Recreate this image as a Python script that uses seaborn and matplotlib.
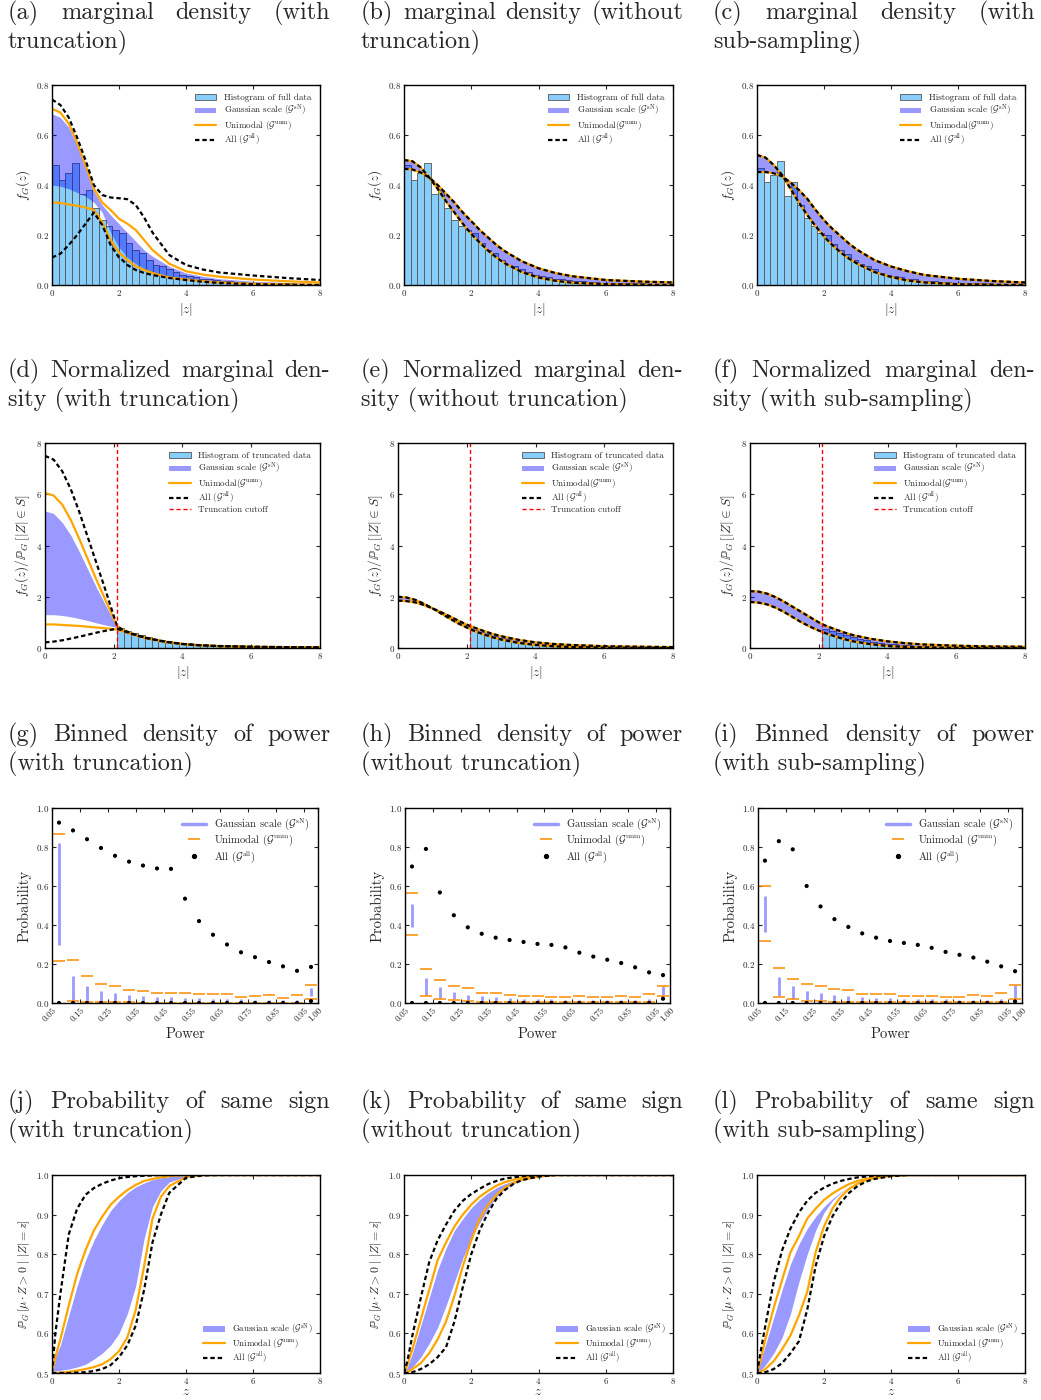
import numpy as np
import pandas as pd
import seaborn as sns
import matplotlib.pyplot as plt
from matplotlib.patches import Patch
from matplotlib.lines import Line2D

# ---- data ----
z_grid = [0, 0.25, 0.5, 0.75, 1.0, 1.25, 1.5, 1.75, 2.0, 2.1, 2.25, 2.5, 2.75,
          3.0, 3.5, 4.0, 4.5, 5.0, 6.0, 7.0, 8.0]
sign_grid = [0, 0.1, 0.25, 0.5, 0.75, 1.0, 1.25, 1.5, 1.75, 2.0, 2.25, 2.5, 2.75,
             3.0, 3.25, 3.5, 4.0, 4.5, 5.0, 6.0, 8.0]

# full-data histograms, bins of width 0.2 on [0, 8]
hist_full = [0.48, 0.42, 0.45, 0.49, 0.365, 0.38, 0.31, 0.26, 0.235, 0.22,
             0.21, 0.17, 0.14, 0.128, 0.1, 0.082, 0.077, 0.065, 0.051, 0.04,
             0.035, 0.03, 0.026, 0.022, 0.019, 0.016, 0.014, 0.012, 0.011, 0.01,
             0.009, 0.008, 0.008, 0.007, 0.006, 0.006, 0.005, 0.005, 0.005, 0.004]
hist_sub = [0.47, 0.413, 0.44, 0.497, 0.355, 0.41, 0.32, 0.27, 0.235, 0.21,
            0.2, 0.165, 0.14, 0.125, 0.1, 0.085, 0.075, 0.063, 0.05, 0.04,
            0.035, 0.03, 0.026, 0.022, 0.018, 0.016, 0.014, 0.012, 0.011, 0.01,
            0.009, 0.008, 0.007, 0.007, 0.006, 0.005, 0.005, 0.005, 0.004, 0.004]
# truncated-data histograms, bins of width 0.2 from the cutoff
hist_trunc_d = [0.78, 0.68, 0.58, 0.5, 0.42, 0.35, 0.3, 0.26, 0.21, 0.17, 0.14,
                0.12, 0.1, 0.09, 0.08, 0.07, 0.06, 0.05, 0.045, 0.04, 0.035, 0.03,
                0.03, 0.025, 0.02, 0.02, 0.02, 0.015, 0.015]
hist_trunc_e = [0.72, 0.63, 0.55, 0.47, 0.4, 0.34, 0.29, 0.24, 0.2, 0.16, 0.13,
                0.11, 0.09, 0.07, 0.06, 0.05, 0.045, 0.04, 0.035, 0.03, 0.03,
                0.025, 0.02, 0.02, 0.02, 0.015, 0.015, 0.01, 0.01]
hist_trunc_f = [0.76, 0.66, 0.57, 0.49, 0.42, 0.36, 0.3, 0.25, 0.21, 0.17, 0.14,
                0.12, 0.1, 0.08, 0.07, 0.06, 0.05, 0.045, 0.04, 0.035, 0.03, 0.025,
                0.025, 0.02, 0.02, 0.02, 0.015, 0.015, 0.01]
cutoff = 2.1

# (a) marginal density with truncation
a_all_hi = [.742, .72, .67, .59, .50, .40, .36, .35, .347, .346, .343, .32, .27,
            .21, .12, .08, .062, .05, .038, .028, .02]
a_uni_hi = [.705, .69, .645, .57, .48, .385, .33, .30, .265, .257, .245, .22, .18,
            .14, .085, .055, .042, .033, .022, .015, .01]
a_gs_hi = [.685, .67, .63, .56, .47, .375, .32, .28, .245, .23, .21, .175, .14,
           .115, .075, .048, .035, .025, .015, .01, .005]
a_gs_lo = [.40, .395, .385, .37, .355, .33, .29, .21, .15, .135, .11, .085, .065,
           .05, .032, .022, .015, .01, .005, .003, .002]
a_uni_lo = [.33, .328, .322, .317, .31, .30, .25, .18, .13, .118, .10, .075, .06,
            .048, .03, .022, .015, .01, .005, .002, .001]
a_all_lo = [.11, .125, .16, .20, .245, .29, .24, .16, .11, .10, .08, .06, .048,
            .04, .028, .02, .013, .008, .003, .001, 0]

# (b) without truncation
b_narrow = [.50, .495, .47, .43, .385, .335, .29, .245, .205, .19, .17, .138, .11,
            .087, .052, .03, .017, .009, .003, .001, 0]
b_wide = [.465, .462, .45, .43, .40, .365, .33, .29, .255, .242, .22, .19, .16,
          .135, .095, .067, .048, .035, .02, .014, .01]

# (c) with sub-sampling
c_narrow = [.52, .51, .48, .44, .385, .33, .28, .235, .195, .18, .16, .13, .105,
            .085, .052, .032, .018, .01, .003, .001, 0]
c_wide = [.452, .452, .447, .435, .41, .38, .345, .30, .26, .245, .225, .195, .165,
          .14, .10, .074, .055, .04, .025, .016, .01]

# (d) normalized, with truncation
d_all_hi = [7.5, 7.35, 6.9, 6.2, 5.3, 4.3, 3.3, 2.3, 1.25, 0.85, 0.72, 0.58, 0.47,
            0.38, 0.25, 0.16, 0.11, 0.08, 0.05, 0.035, 0.025]
d_uni_hi = [6.05, 5.95, 5.6, 5.0, 4.25, 3.45, 2.65, 1.9, 1.15, 0.85, 0.72, 0.58,
            0.47, 0.38, 0.25, 0.16, 0.11, 0.08, 0.05, 0.035, 0.025]
d_gs_hi = [5.35, 5.25, 4.9, 4.4, 3.75, 3.05, 2.35, 1.7, 1.05, 0.82, 0.7, 0.57,
           0.46, 0.37, 0.24, 0.155, 0.105, 0.075, 0.045, 0.03, 0.02]
d_gs_lo = [1.3, 1.3, 1.27, 1.22, 1.15, 1.07, 0.98, 0.9, 0.83, 0.8, 0.69, 0.56,
           0.45, 0.36, 0.23, 0.15, 0.1, 0.07, 0.04, 0.025, 0.02]
d_uni_lo = [0.92, 0.92, 0.9, 0.88, 0.86, 0.83, 0.8, 0.77, 0.74, 0.72, 0.66, 0.55,
            0.45, 0.36, 0.23, 0.15, 0.1, 0.07, 0.04, 0.025, 0.02]
d_all_lo = [0.22, 0.25, 0.3, 0.37, 0.44, 0.52, 0.6, 0.67, 0.73, 0.75, 0.68, 0.56,
            0.46, 0.37, 0.24, 0.155, 0.105, 0.075, 0.045, 0.03, 0.02]

# (e) normalized, without truncation
e_narrow = [2.0, 1.97, 1.88, 1.73, 1.55, 1.35, 1.15, .96, .8, .74, .65, .53, .42,
            .33, .2, .12, .07, .04, .015, .006, .002]
e_wide = [1.85, 1.83, 1.78, 1.68, 1.55, 1.4, 1.24, 1.07, .91, .86, .78, .66, .55,
          .46, .32, .22, .16, .12, .07, .05, .035]

# (f) normalized, with sub-sampling
f_upper = [2.22, 2.2, 2.12, 1.98, 1.8, 1.6, 1.4, 1.2, 1.0, .93, .84, .72, .6, .5,
           .36, .26, .19, .14, .09, .06, .05]
f_lower = [1.8, 1.77, 1.7, 1.57, 1.4, 1.2, 1.0, .83, .68, .63, .55, .44, .34, .26,
           .15, .08, .045, .025, .007, .002, 0]

# (g)-(i) binned density of power
power_centers = [0.075, 0.125, 0.175, 0.225, 0.275, 0.325, 0.375, 0.425, 0.475,
                 0.525, 0.575, 0.625, 0.675, 0.725, 0.775, 0.825, 0.875, 0.925, 0.975]
power_ticks = [0.05, 0.15, 0.25, 0.35, 0.45, 0.55, 0.65, 0.75, 0.85, 0.95, 1.00]
power_ticklabels = ['0.05', '0.15', '0.25', '0.35', '0.45', '0.55', '0.65',
                    '0.75', '0.85', '0.95', '1.00']

g_all_hi = [0.925, 0.885, 0.84, 0.795, 0.755, 0.725, 0.705, 0.69, 0.688, 0.535,
            0.42, 0.35, 0.30, 0.26, 0.235, 0.21, 0.188, 0.165, 0.185]
g_all_lo = [0, 0, 0, 0, 0, 0, 0, 0, 0, 0, 0, 0, 0, 0, 0, 0, 0, 0, 0.01]
g_gs_hi = [0.82, 0.14, 0.085, 0.06, 0.05, 0.04, 0.035, 0.032, 0.03, 0.027, 0.025,
           0.022, 0.02, 0.018, 0.017, 0.016, 0.015, 0.015, 0.075]
g_gs_lo = [0.30, 0.01, 0.005, 0.003, 0.003, 0.003, 0.003, 0.002, 0.002, 0.002,
           0.002, 0.002, 0.002, 0.002, 0.002, 0.002, 0.002, 0.002, 0.035]
g_uni_hi = [0.865, 0.22, 0.138, 0.097, 0.087, 0.067, 0.063, 0.052, 0.05, 0.05,
            0.045, 0.046, 0.047, 0.033, 0.036, 0.042, 0.027, 0.04, 0.093]
g_uni_lo = [0.215, 0.01, 0.005, 0.004, 0.003, 0.003, 0.002, 0.002, 0.002, 0.002,
            0.002, 0.002, 0.002, 0.002, 0.002, 0.002, 0.002, 0.002, 0.022]

h_all_hi = [0.70, 0.79, 0.567, 0.45, 0.388, 0.355, 0.335, 0.323, 0.313, 0.303,
            0.298, 0.285, 0.258, 0.238, 0.222, 0.205, 0.183, 0.157, 0.143]
h_all_lo = [0, 0, 0, 0, 0, 0, 0, 0, 0, 0, 0, 0, 0, 0, 0, 0, 0, 0, 0.022]
h_gs_hi = [0.51, 0.13, 0.082, 0.057, 0.043, 0.035, 0.03, 0.025, 0.022, 0.02,
           0.018, 0.017, 0.016, 0.015, 0.014, 0.014, 0.013, 0.02, 0.085]
h_gs_lo = [0.39, 0.04, 0.025, 0.018, 0.012, 0.008, 0.006, 0.005, 0.004, 0.004,
           0.004, 0.004, 0.004, 0.004, 0.004, 0.004, 0.004, 0.005, 0.04]
h_uni_hi = [0.562, 0.172, 0.118, 0.088, 0.078, 0.053, 0.05, 0.04, 0.038, 0.038,
            0.033, 0.033, 0.034, 0.03, 0.033, 0.037, 0.033, 0.047, 0.087]
h_uni_lo = [0.35, 0.037, 0.022, 0.015, 0.01, 0.006, 0.004, 0.003, 0.003, 0.003,
            0.003, 0.003, 0.003, 0.003, 0.003, 0.003, 0.003, 0.003, 0.035]

i_all_hi = [0.73, 0.83, 0.788, 0.60, 0.495, 0.43, 0.39, 0.357, 0.335, 0.318,
            0.308, 0.298, 0.283, 0.262, 0.247, 0.233, 0.212, 0.188, 0.163]
i_all_lo = [0, 0, 0, 0, 0, 0, 0, 0, 0, 0, 0, 0, 0, 0, 0, 0, 0, 0, 0.008]
i_gs_hi = [0.55, 0.135, 0.088, 0.063, 0.05, 0.04, 0.035, 0.03, 0.027, 0.024,
           0.022, 0.02, 0.019, 0.018, 0.017, 0.016, 0.016, 0.02, 0.09]
i_gs_lo = [0.365, 0.035, 0.02, 0.013, 0.009, 0.006, 0.005, 0.004, 0.004, 0.004,
           0.004, 0.004, 0.004, 0.004, 0.004, 0.004, 0.004, 0.004, 0.025]
i_uni_hi = [0.60, 0.182, 0.125, 0.095, 0.085, 0.07, 0.066, 0.048, 0.048, 0.048,
            0.035, 0.036, 0.037, 0.032, 0.033, 0.04, 0.035, 0.052, 0.093]
i_uni_lo = [0.318, 0.032, 0.018, 0.012, 0.008, 0.006, 0.004, 0.003, 0.003, 0.003,
            0.003, 0.003, 0.003, 0.003, 0.003, 0.003, 0.003, 0.003, 0.02]

# (j)-(l) probability of same sign
j_all_left = [.5, .6, .7, .85, .915, .95, .967, .978, .986, .992, .995, .997, .998,
              .999, 1, 1, 1, 1, 1, 1, 1]
j_uni_left = [.5, .54, .585, .67, .75, .81, .86, .895, .925, .945, .962, .975, .985,
              .99, .994, .997, 1, 1, 1, 1, 1]
j_gs_hi = [.51, .54, .57, .645, .72, .785, .835, .875, .91, .935, .955, .97, .98,
           .988, .993, .996, .999, 1, 1, 1, 1]
j_gs_lo = [.505, .505, .507, .51, .515, .522, .535, .55, .57, .60, .65, .72, .84,
           .92, .96, .982, .997, 1, 1, 1, 1]
j_uni_right = [.5, .5, .501, .503, .506, .51, .515, .522, .535, .555, .59, .66, .77,
               .89, .945, .972, .995, 1, 1, 1, 1]
j_all_right = [.5, .5, .5, .5, .501, .502, .505, .51, .52, .54, .57, .62, .71,
               .83, .9, .955, .993, .999, 1, 1, 1]

k_all_left = [.5, .53, .595, .69, .78, .835, .875, .91, .935, .952, .965, .977, .985,
              .991, .994, .997, .999, 1, 1, 1, 1]
k_uni_left = [.5, .52, .56, .635, .71, .785, .83, .87, .9, .925, .945, .96, .973,
              .982, .988, .993, .998, 1, 1, 1, 1]
k_gs_hi = [.5, .515, .55, .62, .69, .76, .815, .86, .89, .917, .938, .955, .968,
           .978, .985, .99, .997, 1, 1, 1, 1]
k_gs_lo = [.5, .505, .515, .54, .575, .615, .67, .73, .79, .84, .88, .915, .945,
           .965, .978, .987, .996, 1, 1, 1, 1]
k_uni_right = [.5, .502, .51, .525, .55, .585, .63, .695, .77, .835, .89, .925, .95,
               .968, .98, .988, .996, 1, 1, 1, 1]
k_all_right = [.5, .5, .502, .51, .522, .54, .565, .63, .717, .8, .86, .905, .94,
               .962, .977, .987, .996, 1, 1, 1, 1]

l_all_left = [.5, .55, .62, .73, .81, .865, .905, .935, .955, .968, .978, .985, .99,
              .994, .996, .998, 1, 1, 1, 1, 1]
l_uni_left = [.5, .53, .585, .665, .735, .805, .845, .89, .915, .937, .953, .966, .977,
              .985, .99, .994, .998, 1, 1, 1, 1]
l_gs_hi = [.51, .53, .57, .64, .71, .775, .825, .865, .895, .92, .94, .957, .97,
           .98, .987, .992, .997, 1, 1, 1, 1]
l_gs_lo = [.5, .505, .52, .55, .59, .65, .73, .8, .86, .905, .935, .955, .97,
           .98, .987, .992, .997, 1, 1, 1, 1]
l_uni_right = [.5, .502, .51, .53, .56, .595, .645, .705, .805, .87, .915, .945, .965,
               .978, .987, .992, .998, 1, 1, 1, 1]
l_all_right = [.5, .5, .502, .51, .525, .55, .58, .66, .77, .845, .895, .93, .955,
               .972, .983, .99, .997, 1, 1, 1, 1]

titles = [
    ("(a) marginal density (with", "truncation)"),
    ("(b) marginal density (without", "truncation)"),
    ("(c) marginal density (with", "sub-sampling)"),
    ("(d) Normalized marginal den-", "sity (with truncation)"),
    ("(e) Normalized marginal den-", "sity (without truncation)"),
    ("(f) Normalized marginal den-", "sity (with sub-sampling)"),
    ("(g) Binned density of power", "(with truncation)"),
    ("(h) Binned density of power", "(without truncation)"),
    ("(i) Binned density of power", "(with sub-sampling)"),
    ("(j) Probability of same sign", "(with truncation)"),
    ("(k) Probability of same sign", "(without truncation)"),
    ("(l) Probability of same sign", "(with sub-sampling)"),
]

# ---- styling ----
sns.set_style("ticks")
plt.rcParams['font.family'] = ['cmr10', 'DejaVu Serif']
plt.rcParams['mathtext.fontset'] = 'cm'
plt.rcParams['axes.formatter.use_mathtext'] = True
plt.rcParams['axes.unicode_minus'] = False

BAR_COLOR = 'lightskyblue'
BAR_EDGE = '#555555'
BAND_COLOR = 'blue'
BAND_ALPHA = 0.4
UNI_COLOR = 'orange'
DASH = (0, (2.0, 1.3))

W, H = 1041, 1400
fig = plt.figure(figsize=(W / 100, H / 100), dpi=100)


def add_ax(x0, x1, y0, y1):
    return fig.add_axes([x0 / W, 1 - y1 / H, (x1 - x0) / W, (y1 - y0) / H])


def style(ax):
    ax.tick_params(direction='in', top=True, right=True, length=3, width=0.8,
                   labelsize=6.5, pad=2)
    for s in ax.spines.values():
        s.set_linewidth(1.0)
        s.set_color('black')


def lab(name, sup):
    return name + r"($\mathcal{G}^{\rm " + sup + r"}$)"


def density_panel(ax, edges, heights, gs_a, gs_b, uni_a, uni_b, all_a, all_b,
                  ymax, yticks, ylabel, hist_label, uni_space, trunc=False):
    hist_df = pd.DataFrame({'z': [e + 0.1 for e in edges[:-1]], 'h': heights})
    sns.histplot(data=hist_df, x='z', weights='h', bins=list(edges), ax=ax,
                 color=BAR_COLOR, edgecolor=BAR_EDGE, linewidth=0.6, alpha=1.0)
    ax.fill_between(z_grid, gs_a, gs_b, color=BAND_COLOR, alpha=BAND_ALPHA, lw=0)
    for y in (uni_a, uni_b):
        sns.lineplot(x=z_grid, y=y, ax=ax, color=UNI_COLOR, lw=1.6)
    for y in (all_a, all_b):
        sns.lineplot(x=z_grid, y=y, ax=ax, color='black', lw=1.6, linestyle=DASH)
    if trunc:
        ax.axvline(cutoff, color='red', lw=1.0, linestyle=(0, (3, 2)))
    ax.set_xlim(0, 8)
    ax.set_ylim(0, ymax)
    ax.set_xticks([0, 2, 4, 6, 8])
    ax.set_yticks(yticks)
    ax.set_xlabel(r"$|z|$", fontsize=9.5, labelpad=2)
    ax.set_ylabel(ylabel, fontsize=9.5, labelpad=3)
    handles = [Patch(facecolor=BAR_COLOR, edgecolor=BAR_EDGE, lw=0.6),
               Patch(facecolor=BAND_COLOR, alpha=BAND_ALPHA, lw=0),
               Line2D([], [], color=UNI_COLOR, lw=1.6),
               Line2D([], [], color='black', lw=1.6, linestyle=DASH)]
    labels = [hist_label, lab("Gaussian scale ", "sN"),
              lab("Unimodal " if uni_space else "Unimodal", "unm"),
              lab("All ", "all")]
    if trunc:
        handles.append(Line2D([], [], color='red', lw=1.0, linestyle=(0, (3, 2))))
        labels.append("Truncation cutoff")
    ax.legend(handles, labels, loc='upper right', frameon=False, fontsize=6.5,
              handlelength=2.4, handleheight=0.6, labelspacing=0.08,
              borderaxespad=0.6)
    style(ax)


def power_panel(ax, all_hi, all_lo, gs_hi, gs_lo, uni_hi, uni_lo):
    ax.vlines(power_centers, gs_lo, gs_hi, color='#9b9bff', lw=2.0)
    for y in (uni_hi, uni_lo):
        ax.plot(power_centers, y, ls='none', marker='_', ms=8, mew=1.1,
                color='darkorange')
    for y in (all_hi, all_lo):
        sns.scatterplot(x=power_centers, y=y, ax=ax, color='black', s=9,
                        edgecolor='none', zorder=3)
    ax.set_xlim(0.05, 1.0)
    ax.set_ylim(0, 1.0)
    ax.set_xticks(power_ticks)
    ax.set_xticklabels(power_ticklabels, rotation=45, ha='right',
                       rotation_mode='anchor')
    ax.set_yticks([0, 0.2, 0.4, 0.6, 0.8, 1.0])
    ax.set_xlabel("Power", fontsize=10.5, labelpad=3)
    ax.set_ylabel("Probability", fontsize=10.5, labelpad=3)
    handles = [Line2D([], [], color='#9b9bff', lw=2.5),
               Line2D([], [], color='darkorange', ls='none', marker='_', ms=8, mew=1.1),
               Line2D([], [], color='black', ls='none', marker='o', ms=2.8)]
    labels = [lab("Gaussian scale ", "sN"), lab("Unimodal ", "unm"), lab("All ", "all")]
    ax.legend(handles, labels, loc='upper right', frameon=False, fontsize=7.6,
              handlelength=2.2, labelspacing=0.05, borderaxespad=0.4)
    style(ax)


def sign_panel(ax, all_l, uni_l, gs_hi, gs_lo, uni_r, all_r):
    ax.fill_between(sign_grid, gs_lo, gs_hi, color=BAND_COLOR, alpha=BAND_ALPHA, lw=0)
    for y in (uni_l, uni_r):
        sns.lineplot(x=sign_grid, y=y, ax=ax, color=UNI_COLOR, lw=1.6)
    for y in (all_l, all_r):
        sns.lineplot(x=sign_grid, y=y, ax=ax, color='black', lw=1.6, linestyle=DASH)
    ax.set_xlim(0, 8)
    ax.set_ylim(0.5, 1.0)
    ax.set_xticks([0, 2, 4, 6, 8])
    ax.set_yticks([0.5, 0.6, 0.7, 0.8, 0.9, 1.0])
    ax.set_xlabel(r"$z$", fontsize=9.5, labelpad=0)
    ax.set_ylabel(r"$\mathbb{P}_G\,[\mu\cdot Z>0\ |\ |Z|=z]$", fontsize=8.5, labelpad=3)
    handles = [Patch(facecolor=BAND_COLOR, alpha=BAND_ALPHA, lw=0),
               Line2D([], [], color=UNI_COLOR, lw=1.6),
               Line2D([], [], color='black', lw=1.6, linestyle=DASH)]
    labels = [lab("Gaussian scale ", "sN"), lab("Unimodal ", "unm"), lab("All ", "all")]
    ax.legend(handles, labels, loc='lower right', frameon=False, fontsize=6.4,
              handlelength=2.4, handleheight=0.6, labelspacing=0.08,
              borderaxespad=0.45)
    style(ax)


full_edges = [round(0.2 * k, 2) for k in range(41)]
trunc_edges = [round(cutoff + 0.2 * k, 2) for k in range(30)]
fg_label = r"$f_G(z)$"
norm_label = r"$f_G(z)/\mathbb{P}_G\,[|Z|\in S]$"

col_x = [(52, 320), (404, 673), (757, 1025)]
col_x2 = [(45, 320), (398, 673), (750, 1025)]
col_x3 = [(52, 318), (405, 670), (758, 1022)]

# row 1
density_panel(add_ax(*col_x[0], 85, 285), full_edges, hist_full, a_gs_hi, a_gs_lo,
              a_uni_hi, a_uni_lo, a_all_hi, a_all_lo, 0.8, [0, .2, .4, .6, .8],
              fg_label, "Histogram of full data", True)
density_panel(add_ax(*col_x[1], 85, 285), full_edges, hist_full, b_narrow, b_wide,
              b_narrow, b_wide, b_narrow, b_wide, 0.8, [0, .2, .4, .6, .8],
              fg_label, "Histogram of full data", False)
density_panel(add_ax(*col_x[2], 85, 285), full_edges, hist_sub, c_narrow, c_wide,
              c_narrow, c_wide, c_narrow, c_wide, 0.8, [0, .2, .4, .6, .8],
              fg_label, "Histogram of full data", False)

# row 2
density_panel(add_ax(*col_x2[0], 443, 648), trunc_edges, hist_trunc_d, d_gs_hi, d_gs_lo,
              d_uni_hi, d_uni_lo, d_all_hi, d_all_lo, 8, [0, 2, 4, 6, 8],
              norm_label, "Histogram of truncated data", False, trunc=True)
density_panel(add_ax(*col_x2[1], 443, 648), trunc_edges, hist_trunc_e, e_narrow, e_wide,
              e_narrow, e_wide, e_narrow, e_wide, 8, [0, 2, 4, 6, 8],
              norm_label, "Histogram of truncated data", False, trunc=True)
density_panel(add_ax(*col_x2[2], 443, 648), trunc_edges, hist_trunc_f, f_upper, f_lower,
              f_upper, f_lower, f_upper, f_lower, 8, [0, 2, 4, 6, 8],
              norm_label, "Histogram of truncated data", False, trunc=True)

# row 3
power_panel(add_ax(*col_x3[0], 808, 1003), g_all_hi, g_all_lo, g_gs_hi, g_gs_lo,
            g_uni_hi, g_uni_lo)
power_panel(add_ax(*col_x3[1], 808, 1003), h_all_hi, h_all_lo, h_gs_hi, h_gs_lo,
            h_uni_hi, h_uni_lo)
power_panel(add_ax(*col_x3[2], 808, 1003), i_all_hi, i_all_lo, i_gs_hi, i_gs_lo,
            i_uni_hi, i_uni_lo)

# row 4
sign_panel(add_ax(*col_x[0], 1175, 1373), j_all_left, j_uni_left, j_gs_hi, j_gs_lo,
           j_uni_right, j_all_right)
sign_panel(add_ax(*col_x[1], 1175, 1373), k_all_left, k_uni_left, k_gs_hi, k_gs_lo,
           k_uni_right, k_all_right)
sign_panel(add_ax(*col_x[2], 1175, 1373), l_all_left, l_uni_left, l_gs_hi, l_gs_lo,
           l_uni_right, l_all_right)

# ---- justified two-line panel titles ----
renderer = fig.canvas.get_renderer()
title_cols = [(8, 330), (361, 683), (713, 1035)]
title_rows = [(13, 42), (371, 400), (735, 764), (1102, 1131)]
TITLE_SIZE = 17.5
for idx, (line1, line2) in enumerate(titles):
    r, c = divmod(idx, 3)
    x0, x1 = title_cols[c]
    y1, y2 = title_rows[r]
    words = line1.split()
    texts = [fig.text(0, 1 - y1 / H, w, fontsize=TITLE_SIZE, va='center')
             for w in words]
    widths = [t.get_window_extent(renderer).width for t in texts]
    gap = (x1 - x0 - sum(widths)) / (len(words) - 1)
    x = x0
    for t, w in zip(texts, widths):
        t.set_x(x / W)
        x += w + gap
    fig.text(x0 / W, 1 - y2 / H, line2, fontsize=TITLE_SIZE, va='center')

fig.savefig("out.png", dpi=100)
